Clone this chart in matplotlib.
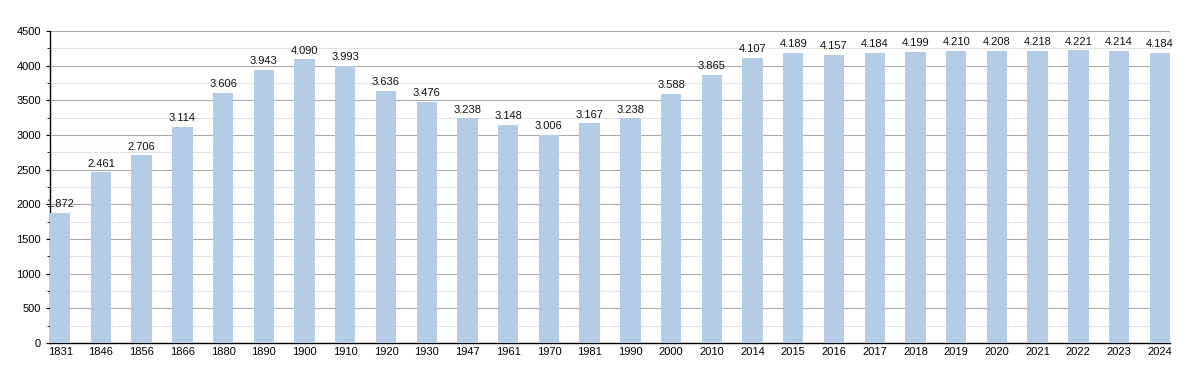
import numpy as np
import matplotlib.pyplot as plt
from matplotlib.ticker import MultipleLocator

plt.rcParams['font.family'] = ['Liberation Sans', 'DejaVu Sans']

years = ['1831', '1846', '1856', '1866', '1880', '1890', '1900', '1910', '1920', '1930',
         '1947', '1961', '1970', '1981', '1990', '2000', '2010', '2014', '2015', '2016',
         '2017', '2018', '2019', '2020', '2021', '2022', '2023', '2024']
population = [1872, 2461, 2706, 3114, 3606, 3943, 4090, 3993, 3636, 3476,
              3238, 3148, 3006, 3167, 3238, 3588, 3865, 4107, 4189, 4157,
              4184, 4199, 4210, 4208, 4218, 4221, 4214, 4184]

fig = plt.figure(figsize=(12, 3.73), dpi=100)
ax = fig.add_axes([50/1200, 30/373, 1120/1200, 312/373])

x = np.arange(len(years))
ax.bar(x, population, width=0.5, color='#b4cce6', zorder=3)

# value labels with dot as thousands separator
for xi, v in zip(x, population):
    label = '{:,}'.format(v).replace(',', '.')
    ax.text(xi, v + 55, label, ha='center', va='bottom', fontsize=8, color='#111111', zorder=4)

ax.set_xlim(-0.25, len(years) - 0.75)
ax.set_ylim(0, 4500)
ax.set_xticks(x)
ax.set_xticklabels(years, fontsize=8)
ax.yaxis.set_major_locator(MultipleLocator(500))
ax.yaxis.set_minor_locator(MultipleLocator(250))
ax.tick_params(axis='y', labelsize=8, length=3, width=0.8)
ax.tick_params(axis='y', which='minor', length=2)
ax.tick_params(axis='x', length=0, pad=3)

ax.grid(axis='y', which='major', color='#aaaaaa', linewidth=0.8, zorder=0)
ax.grid(axis='y', which='minor', color='#e3e3e3', linewidth=0.8, zorder=0)

for s in ['top', 'right']:
    ax.spines[s].set_visible(False)
ax.spines['left'].set_linewidth(1)
ax.spines['bottom'].set_linewidth(1)

fig.savefig('out.png', dpi=100)
